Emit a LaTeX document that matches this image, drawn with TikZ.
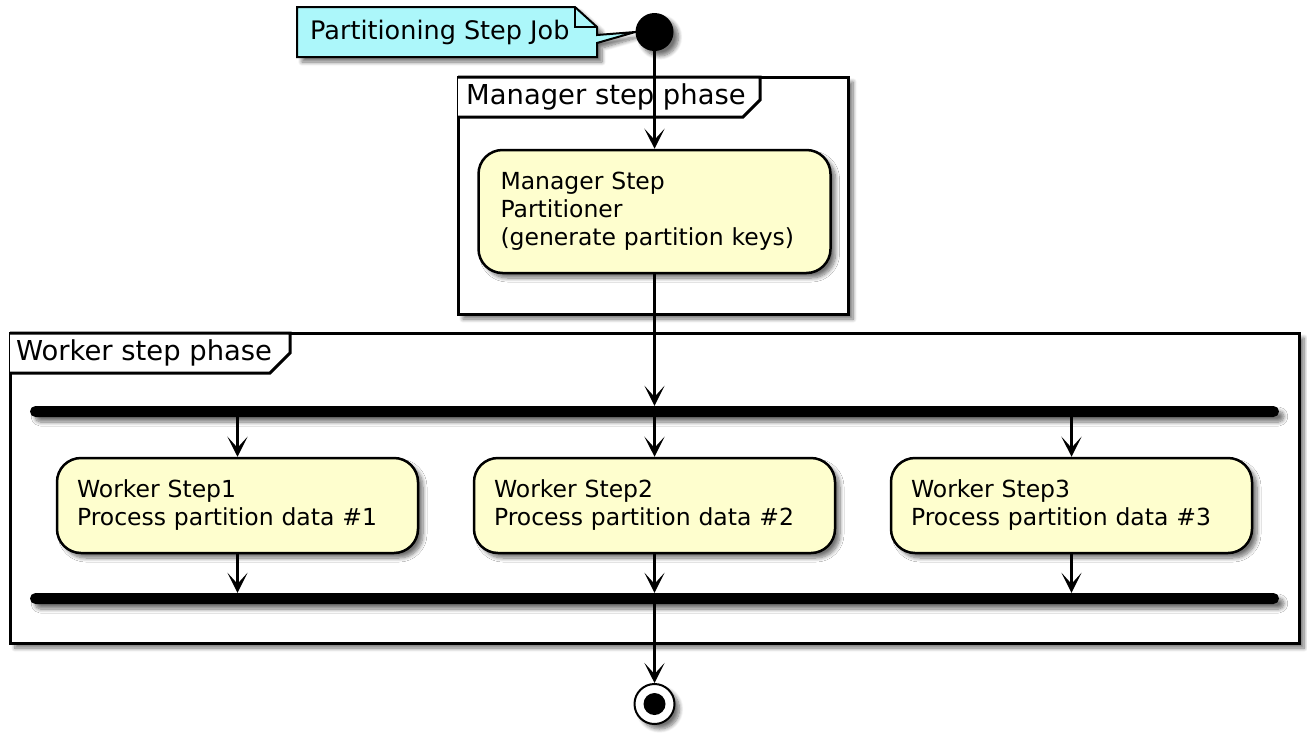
\documentclass[tikz,border=0pt]{standalone}
\usepackage{fontspec}
\setmainfont{DejaVu Sans}
\usetikzlibrary{arrows.meta,shadows.blur}
\definecolor{actfill}{HTML}{FEFECE}
\definecolor{notefill}{RGB}{172,247,250}
\newcommand\acttext{\fontsize{23.5pt}{28pt}\selectfont}
\newcommand\notetext{\fontsize{25.5pt}{30pt}\selectfont}
\newcommand\titletext{\fontsize{27.4pt}{32pt}\selectfont}
\tikzset{
  shad/.style={blur shadow={shadow xshift=5pt, shadow yshift=-5pt, shadow blur steps=8, shadow blur radius=4pt, shadow opacity=55}},
  frm/.style={draw, line width=3pt, fill=white, shad, rectangle, inner sep=0pt},
  tab/.style={draw, line width=3pt, fill=white, line join=miter},
  ttl/.style={anchor=west, inner sep=0pt, font=\titletext},
  act/.style={draw, line width=2.5pt, fill=actfill, rectangle, rounded corners=24pt, shad, align=left, font=\acttext, inner ysep=0pt},
  bar/.style={fill=black, rectangle, rounded corners=5.5pt, minimum height=11pt, minimum width=1249pt, inner sep=0pt, shad},
  arr/.style={draw, line width=2.4pt, -{Stealth[length=20pt,width=20pt,inset=11pt]}},
}
\begin{document}
\begin{tikzpicture}[x=1pt,y=-1pt]
\useasboundingbox (0,0) rectangle (1307,734);

% frames
\node[frm, minimum width=390pt, minimum height=237pt] (mframe) at (653,195.5) {};
\draw[tab] (458,77) -- (760,77) -- (760,100) -- (743,117) -- (458,117);
\node[ttl] (mtitle) at (466,97) {Manager step phase};

\node[frm, minimum width=1289pt, minimum height=310pt] (wframe) at (654.5,488) {};
\draw[tab] (10,333) -- (290,333) -- (290,353) -- (270,373) -- (10,373);
\node[ttl] (wtitle) at (16,353) {Worker step phase};

% start and note
\node[circle, fill=black, minimum size=38pt, inner sep=0pt, shad] (start) at (654.5,32) {};
\path[draw, line width=2pt, fill=notefill, shad, line join=miter]
  (297,7) -- (575,7) -- (597,27) -- (597,35) -- (start.west) -- (597,43) -- (597,57) -- (297,57) -- cycle;
\draw[line width=2pt] (575,7) -- (575,27) -- (597,27);
\node[anchor=west, inner sep=0pt, font=\notetext] (note) at (310,32) {Partitioning Step Job};

% manager step
\node[act, minimum width=352pt, minimum height=123pt, text width=308pt, inner xsep=22pt] (mbox) at (654.5,211.5)
  {Manager Step\\Partitioner\\(generate partition keys)};

% fork / join bars
\node[bar] (fork) at (654.5,411.5) {};
\node[bar] (join) at (654.5,598.5) {};

% worker steps
\node[act, minimum width=361pt, minimum height=95pt, text width=321pt, inner xsep=20pt] (w1) at (237.5,505.5)
  {Worker Step1\\Process partition data \#1};
\node[act, minimum width=361pt, minimum height=95pt, text width=321pt, inner xsep=20pt] (w2) at (654.5,505.5)
  {Worker Step2\\Process partition data \#2};
\node[act, minimum width=361pt, minimum height=95pt, text width=321pt, inner xsep=20pt] (w3) at (1071.5,505.5)
  {Worker Step3\\Process partition data \#3};

% end
\node[circle, draw, line width=2pt, fill=white, minimum size=40pt, inner sep=0pt, shad] (stop) at (654.5,704) {};
\node[circle, fill=black, minimum size=22pt, inner sep=0pt] (stopin) at (stop.center) {};

% connectors
\draw[arr] (start.south) -- (start.south |- mbox.north);
\draw[arr] (mbox.south) -- (mbox.south |- fork.north);
\draw[arr] (w1.north |- fork.south) -- (w1.north);
\draw[arr] (w2.north |- fork.south) -- (w2.north);
\draw[arr] (w3.north |- fork.south) -- (w3.north);
\draw[arr] (w1.south) -- (w1.south |- join.north);
\draw[arr] (w2.south) -- (w2.south |- join.north);
\draw[arr] (w3.south) -- (w3.south |- join.north);
\draw[arr] (stop.north |- join.south) -- (stop.north);
\end{tikzpicture}
\end{document}
